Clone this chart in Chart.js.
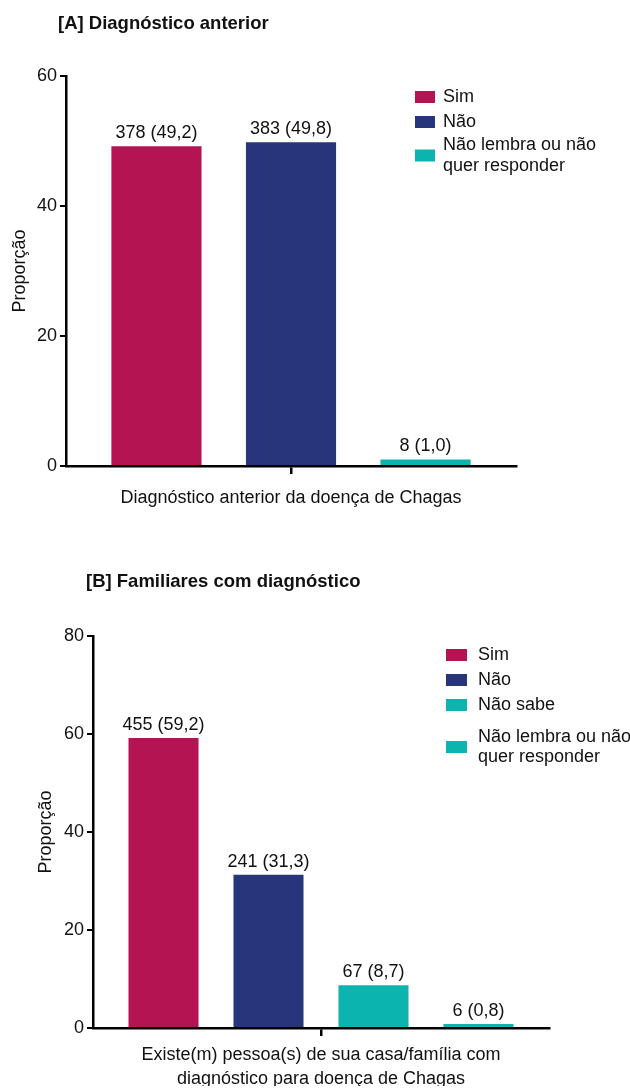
<!DOCTYPE html>
<html>
<head>
<meta charset="utf-8">
<script src="https://cdn.jsdelivr.net/npm/chart.js@4.4.1/dist/chart.umd.min.js"></script>
<style>
body { margin: 0; background: #fff; width: 630px; height: 1088px; position: relative; overflow: hidden; font-family: "Liberation Sans", Arial, sans-serif; }
.title { position: absolute; z-index: 2; font-weight: bold; font-size: 18.5px; line-height: 21px; color: #111; white-space: nowrap; }
.box { position: absolute; left: 0; width: 630px; }
</style>
</head>
<body>
<div class="title" style="left:58px;top:12px">[A] Diagnóstico anterior</div>
<div class="box" style="top:0;height:550px"><canvas id="chartA"></canvas></div>
<div class="title" style="left:86px;top:570px">[B] Familiares com diagnóstico</div>
<div class="box" style="top:550px;height:538px"><canvas id="chartB"></canvas></div>
<script>
// chart A - diagnostico anterior
const categoryA = ['Diagnóstico anterior da doença de Chagas'];
const seriesA = ['Sim', 'Não', 'Não lembra ou não quer responder'];
const percentA = [49.2, 49.8, 1.0];
const countA = [378, 383, 8];
const yTicksA = [0, 20, 40, 60];

// chart B - familiares com diagnostico
const categoryB = [['Existe(m) pessoa(s) de sua casa/família com', 'diagnóstico para doença de Chagas']];
const seriesB = ['Sim', 'Não', 'Não sabe', 'Não lembra ou não quer responder'];
const percentB = [59.2, 31.3, 8.7, 0.8];
const countB = [455, 241, 67, 6];
const yTicksB = [0, 20, 40, 60, 80];

const colorsA = ['#B51452', '#29357A', '#0CB4AF'];
const colorsB = ['#B51452', '#29357A', '#0CB4AF', '#0CB4AF'];

const FONT = '"Liberation Sans", Arial, sans-serif';
Chart.defaults.font.family = FONT;
Chart.defaults.font.size = 18;
Chart.defaults.color = '#111';

function wrapText(ctx, text, maxW) {
    const words = text.split(' ');
    const lines = [];
    let cur = '';
    words.forEach(w => {
        const test = cur ? cur + ' ' + w : w;
        if (ctx.measureText(test).width > maxW && cur) {
            lines.push(cur);
            cur = w;
        } else {
            cur = test;
        }
    });
    lines.push(cur);
    return lines;
}

// numbers above the bars: "n (pct)"
const barLabels = {
    id: 'barLabels',
    afterDatasetsDraw(chart) {
        const ctx = chart.ctx;
        ctx.save();
        ctx.font = '18px ' + FONT;
        ctx.fillStyle = '#111';
        ctx.textAlign = 'center';
        ctx.textBaseline = 'bottom';
        chart.data.datasets.forEach((ds, i) => {
            chart.getDatasetMeta(i).data.forEach((bar, j) => {
                const pct = ds.data[j].toFixed(1).replace('.', ',');
                ctx.fillText(ds.counts[j] + ' (' + pct + ')', bar.x, bar.y - 4);
            });
        });
        ctx.restore();
    }
};

// legend on the right, with wrapped labels
const sideLegend = {
    id: 'sideLegend',
    afterDraw(chart, args, opts) {
        const ctx = chart.ctx;
        ctx.save();
        ctx.font = '18px ' + FONT;
        ctx.textAlign = 'left';
        ctx.textBaseline = 'middle';
        chart.data.datasets.forEach((ds, i) => {
            const lines = wrapText(ctx, ds.label, opts.wrap);
            const y0 = opts.rows[i];
            const mid = y0 + (lines.length - 1) * opts.lineHeight / 2;
            ctx.fillStyle = ds.backgroundColor;
            ctx.fillRect(opts.x, mid - opts.boxH / 2, opts.boxW, opts.boxH);
            ctx.fillStyle = '#111';
            lines.forEach((t, k) => ctx.fillText(t, opts.x + opts.boxW + opts.gap, y0 + k * opts.lineHeight));
        });
        ctx.restore();
    }
};

function makeChart(id, categories, series, values, counts, colors, yTicks, cfg) {
    const datasets = series.map((name, i) => ({
        label: name,
        data: [values[i]],
        counts: [counts[i]],
        backgroundColor: colors[i],
        borderWidth: 0,
        categoryPercentage: cfg.catPct,
        barPercentage: cfg.barPct
    }));
    return new Chart(document.getElementById(id), {
        type: 'bar',
        data: { labels: categories, datasets: datasets },
        plugins: [barLabels, sideLegend],
        options: {
            responsive: true,
            maintainAspectRatio: false,
            animation: false,
            layout: { padding: cfg.padding },
            plugins: {
                legend: { display: false },
                tooltip: { enabled: false },
                sideLegend: cfg.legend
            },
            scales: {
                x: {
                    offset: true,
                    ticks: { color: '#111', padding: cfg.xPad, maxRotation: 0, autoSkip: false, font: { size: 18, lineHeight: 1.28 } },
                    grid: { offset: false, drawOnChartArea: false, drawTicks: true, tickLength: 8, color: '#000', lineWidth: 2.5 },
                    border: { display: true, color: '#000', width: 2.5 },
                    afterFit(scale) { scale.height = cfg.xHeight; }
                },
                y: {
                    min: yTicks[0],
                    max: yTicks[yTicks.length - 1],
                    ticks: { stepSize: yTicks[1] - yTicks[0], color: '#111', padding: 3 },
                    grid: { drawOnChartArea: false, drawTicks: true, tickLength: 6, color: '#000', lineWidth: 2 },
                    border: { display: true, color: '#000', width: 2.5 },
                    title: { display: true, text: 'Proporção', color: '#111', padding: { top: 4, bottom: 0 } },
                    afterFit(scale) { scale.width = cfg.yWidth; }
                }
            }
        }
    });
}

const chartA = makeChart('chartA', categoryA, seriesA, percentA, countA, colorsA, yTicksA, {
    catPct: 0.897, barPct: 0.67,
    padding: { left: 5, top: 76, right: 114, bottom: 14 },
    xHeight: 70, xPad: 13, yWidth: 61,
    legend: { x: 415, rows: [97, 122, 145], lineHeight: 21, boxW: 20, boxH: 12, gap: 8, wrap: 165 }
});

const chartB = makeChart('chartB', categoryB, seriesB, percentB, countB, colorsB, yTicksB, {
    catPct: 0.921, barPct: 0.667,
    padding: { left: 31, top: 86, right: 81, bottom: 2 },
    xHeight: 58, xPad: 8, yWidth: 62,
    legend: { x: 446, rows: [105, 130, 155, 187], lineHeight: 20, boxW: 21, boxH: 12, gap: 11, wrap: 165 }
});
</script>
</body>
</html>
